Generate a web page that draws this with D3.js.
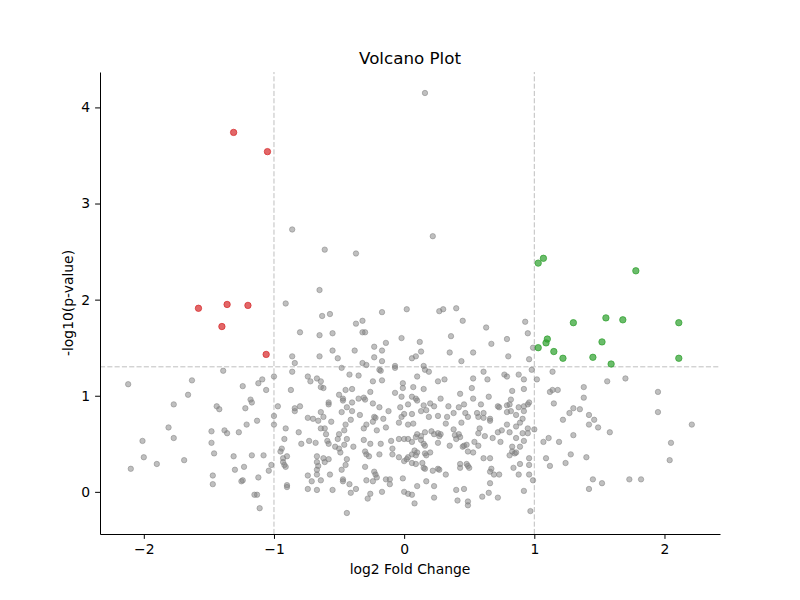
<!DOCTYPE html>
<html>
<head>
<meta charset="utf-8">
<script src="https://cdn.jsdelivr.net/npm/d3@7"></script>
<style>
  body { margin: 0; background: #fff; }
  svg text { font-family: "DejaVu Sans", sans-serif; fill: #000; }
</style>
</head>
<body>
<svg id="chart" width="800" height="600"></svg>
<script>
// [log2 fold change, -log10(p)]
const downGenes = [
  [-1.31, 3.74], [-1.05, 3.54], [-1.58, 1.91], [-1.36, 1.95], [-1.20, 1.94], [-1.40, 1.72], [-1.06, 1.43]
]

const upGenes = [
  [1.07, 2.43], [1.03, 2.38], [1.78, 2.30], [1.10, 1.59], [1.09, 1.55], [1.03, 1.50], [1.15, 1.46],
  [1.22, 1.39], [1.30, 1.76], [1.55, 1.81], [1.68, 1.79], [2.11, 1.76], [1.52, 1.56], [1.45, 1.40],
  [1.59, 1.33], [2.11, 1.39]
]

const otherGenes = [
  [-0.86, 2.73], [-0.61, 2.52], [-0.37, 2.48], [-0.65, 2.10], [0.16, 4.15], [0.22, 2.66],
  [-2.12, 1.12], [-1.63, 1.16], [-1.39, 1.26], [-1.24, 1.10], [-1.66, 1.01], [-1.77, 0.91], [-1.44, 0.89],
  [-1.18, 0.96], [-1.17, 0.93], [-1.22, 0.87], [-1.42, 0.86],
  [-1.81, 0.67], [-2.01, 0.53], [-1.77, 0.56], [-2.00, 0.36], [-1.90, 0.29], [-2.10, 0.24], [-1.69, 0.33],
  [-1.48, 0.63], [-1.38, 0.64], [-1.36, 0.61], [-1.27, 0.62], [-1.21, 0.70], [-1.48, 0.51], [-1.46, 0.40],
  [-1.31, 0.37], [-1.17, 0.38], [-1.23, 0.26], [-1.30, 0.23], [-1.47, 0.17], [-1.47, 0.08], [-1.25, 0.11],
  [-1.24, 0.12], [-1.15, -0.03],
  [-0.91, 1.96], [-0.63, 1.83], [-0.57, 1.85], [-0.17, 1.87], [0.02, 1.90], [-0.37, 1.75], [-0.32, 1.78],
  [-0.80, 1.66], [-0.65, 1.63], [-0.55, 1.65], [-0.32, 1.66], [-0.30, 1.66], [-0.02, 1.60], [-0.14, 1.55],
  [-0.23, 1.51], [-0.17, 1.47], [-0.38, 1.47], [-0.55, 1.47], [-0.86, 1.41], [-0.65, 1.41], [-0.51, 1.39],
  [-0.23, 1.40], [-0.84, 1.34], [-0.17, 1.36], [-0.32, 1.34], [-0.29, 1.32], [-0.48, 1.29], [-0.07, 1.31],
  [-0.07, 1.29], [-0.19, 1.27], [-0.18, 1.26], [-0.86, 1.25], [-1.00, 1.20], [-1.09, 1.17], [-1.12, 1.13],
  [-0.74, 1.20], [-0.72, 1.15], [-0.67, 1.18], [-0.64, 1.15], [-0.42, 1.22], [-0.35, 1.21], [-0.24, 1.15],
  [-0.17, 1.16], [-0.01, 1.13], [-1.06, 1.06], [-0.87, 1.06], [-0.64, 1.09], [-0.62, 1.08], [-0.45, 1.06],
  [-0.40, 1.07], [-0.26, 1.04], [-0.07, 1.03], [-0.01, 1.08], [-0.50, 1.01], [-0.47, 0.97], [-0.47, 0.95],
  [-0.40, 0.93], [-0.35, 0.97], [-0.31, 0.98], [-0.30, 0.96], [-0.24, 0.92], [-0.02, 0.99], [-0.03, 0.88],
  [0.03, 0.91], [-0.19, 0.88], [-0.58, 0.93], [-0.58, 0.91], [-0.97, 0.89], [-0.80, 0.89], [-0.44, 0.88],
  [-0.84, 0.87],
  [-1.00, 0.79], [-1.00, 0.70], [-1.13, 0.74], [-0.84, 0.84], [-0.74, 0.77], [-0.70, 0.76], [-0.66, 0.74],
  [-0.64, 0.83], [-0.62, 0.78], [-0.56, 0.73], [-0.48, 0.83], [-0.40, 0.84], [-0.34, 0.80], [-0.23, 0.78],
  [-0.22, 0.77], [-0.12, 0.84], [-0.16, 0.76], [-0.02, 0.78], [0.00, 0.81], [-0.04, 0.72], [0.03, 0.70],
  [-0.91, 0.66], [-0.64, 0.66], [-0.61, 0.66], [-0.81, 0.62], [-0.60, 0.60], [-0.50, 0.60], [-0.46, 0.64],
  [-0.41, 0.75], [-0.31, 0.66], [-0.29, 0.70], [-0.24, 0.73], [-0.21, 0.64], [-0.14, 0.67], [-0.45, 0.70],
  [-0.92, 0.55], [-0.79, 0.50], [-0.73, 0.53], [-0.68, 0.51], [-0.59, 0.53], [-0.58, 0.50], [-0.51, 0.55],
  [-0.44, 0.55], [-0.46, 0.49], [-0.53, 0.47], [-0.50, 0.45], [-0.49, 0.41], [-0.39, 0.47], [-0.31, 0.54],
  [-0.26, 0.50], [-0.18, 0.50], [-0.10, 0.53], [-0.04, 0.55], [0.00, 0.55], [0.03, 0.55], [-0.94, 0.45],
  [-0.95, 0.42], [-0.90, 0.37], [-1.08, 0.38], [-0.93, 0.35], [-0.93, 0.31], [-0.92, 0.28], [-0.91, 0.26],
  [-1.02, 0.28], [-1.04, 0.22], [-1.12, 0.15], [-0.67, 0.37], [-0.62, 0.35], [-0.58, 0.34], [-0.67, 0.31],
  [-0.66, 0.27], [-0.67, 0.23], [-0.67, 0.18], [-0.61, 0.31], [-0.74, 0.17], [-0.71, 0.11], [-0.64, 0.12],
  [-0.57, 0.18], [-0.74, 0.03], [-0.67, 0.02], [-0.55, 0.02], [-0.90, 0.07], [-0.90, 0.05], [-0.48, 0.23],
  [-0.45, 0.28], [-0.44, 0.34], [-0.47, 0.13], [-0.47, 0.11], [-0.42, 0.08], [-0.37, 0.03], [-0.41, -0.01],
  [-0.44, -0.22], [-0.30, 0.42], [-0.29, 0.39], [-0.27, 0.37], [-0.19, 0.39], [-0.09, 0.45], [-0.09, 0.39],
  [-0.04, 0.36], [0.00, 0.32], [0.02, 0.34], [0.03, 0.36], [-0.30, 0.26], [-0.23, 0.21], [-0.22, 0.18],
  [-0.21, 0.15], [-0.29, 0.12], [-0.24, 0.11], [-0.14, 0.13], [-0.11, 0.13], [-0.11, 0.08], [-0.26, -0.02],
  [-0.28, -0.07], [-0.17, 0.00], [-0.01, 0.14], [0.00, 0.00], [0.03, -0.02], [-1.11, -0.17], [-1.13, -0.03],
  [0.06, 0.81], [0.13, 0.84], [0.17, 0.85], [0.19, 0.78], [0.26, 0.79], [0.33, 0.78], [0.38, 0.82],
  [0.47, 0.82], [0.49, 0.78], [0.56, 0.82], [0.61, 0.82], [0.57, 0.78], [0.61, 0.77], [0.66, 0.76],
  [0.66, 0.74], [0.79, 0.83], [0.82, 0.84], [0.86, 0.80], [0.92, 0.84], [0.91, 0.76], [0.07, 0.71],
  [0.32, 0.71], [0.44, 0.72], [0.10, 0.60], [0.13, 0.58], [0.09, 0.57], [0.21, 0.63], [0.23, 0.60],
  [0.26, 0.61], [0.27, 0.58], [0.28, 0.60], [0.16, 0.62], [0.38, 0.65], [0.39, 0.59], [0.42, 0.60],
  [0.40, 0.55], [0.43, 0.57], [0.58, 0.66], [0.57, 0.61], [0.62, 0.58], [0.68, 0.56], [0.72, 0.62],
  [0.75, 0.64], [0.79, 0.70], [0.81, 0.62], [0.86, 0.68], [0.89, 0.72], [0.91, 0.61], [0.95, 0.61],
  [0.95, 0.66], [1.00, 0.65], [0.86, 0.56], [0.92, 0.53], [0.06, 0.52], [0.13, 0.54], [0.15, 0.50],
  [0.16, 0.48], [0.26, 0.51], [0.35, 0.48], [0.45, 0.47], [0.46, 0.48], [0.48, 0.49], [0.54, 0.52],
  [0.57, 0.48], [0.74, 0.52], [0.08, 0.43], [0.10, 0.41], [0.06, 0.39], [0.09, 0.38], [0.16, 0.40],
  [0.17, 0.38], [0.20, 0.41], [0.49, 0.42], [0.53, 0.41], [0.83, 0.47], [0.83, 0.42], [0.85, 0.40],
  [0.86, 0.41], [0.81, 0.38], [0.89, 0.47], [0.66, 0.35], [0.61, 0.35], [0.96, 0.35], [0.96, 0.28],
  [0.96, 0.18], [0.06, 0.30], [0.09, 0.29], [0.14, 0.30], [0.15, 0.25], [0.16, 0.24], [0.22, 0.22],
  [0.26, 0.24], [0.27, 0.23], [0.32, 0.18], [0.43, 0.29], [0.43, 0.25], [0.48, 0.29], [0.49, 0.27],
  [0.50, 0.25], [0.67, 0.24], [0.66, 0.21], [0.69, 0.18], [0.73, 0.18], [0.84, 0.25], [0.89, 0.29],
  [0.88, 0.18], [0.99, 0.12], [0.66, 0.09], [0.17, 0.11], [0.10, 0.06], [0.23, 0.06], [0.40, 0.02],
  [0.46, 0.03], [0.92, 0.01], [0.65, -0.01], [0.60, -0.05], [0.72, -0.06], [0.06, -0.03], [0.23, -0.06],
  [0.41, -0.09], [0.49, -0.10], [0.49, -0.14], [0.08, -0.12], [0.97, -0.20], [1.07, 0.52], [1.11, 0.56],
  [1.19, 0.52], [1.09, 0.35], [1.12, 0.27], [1.24, 0.30], [1.22, 0.75],
  [1.27, 0.82], [1.42, 0.80], [1.46, 0.75], [1.42, 0.70], [1.49, 0.67], [1.58, 0.62], [1.30, 0.59],
  [1.95, 0.83], [2.21, 0.70], [2.05, 0.51], [2.04, 0.33], [1.28, 0.39], [1.40, 0.36], [1.45, 0.13],
  [1.52, 0.09], [1.42, 0.03], [1.73, 0.13], [1.82, 0.13],
  [1.56, 1.15], [1.70, 1.18], [1.38, 1.09], [1.38, 0.98], [1.95, 1.04], [1.30, 0.87], [1.35, 0.86],
  [0.27, 1.88], [0.30, 1.90], [0.40, 1.91], [0.45, 1.78], [0.63, 1.71], [0.93, 1.77], [0.95, 1.65],
  [0.36, 1.62], [0.12, 1.56], [0.67, 1.54], [0.79, 1.59], [0.13, 1.46], [0.09, 1.41], [0.06, 1.39],
  [0.35, 1.45], [0.53, 1.45], [0.44, 1.36], [0.80, 1.41], [0.99, 1.50], [0.96, 1.38], [0.15, 1.31],
  [0.16, 1.27], [0.19, 1.25], [0.98, 1.27], [0.61, 1.25], [0.77, 1.22], [0.79, 1.20], [0.88, 1.22],
  [0.10, 1.20], [0.26, 1.15], [0.31, 1.17], [0.53, 1.18], [0.64, 1.17], [0.92, 1.17], [1.02, 1.17],
  [1.14, 1.25], [0.07, 1.09], [0.15, 1.07], [0.52, 1.08], [0.83, 1.05], [0.92, 1.07], [1.12, 1.04],
  [1.14, 1.06], [1.18, 1.06], [0.43, 1.02], [0.28, 0.97], [0.53, 0.97], [0.65, 0.99], [0.82, 0.96],
  [0.96, 0.93], [0.95, 0.91], [1.15, 0.92], [0.06, 0.99], [0.09, 0.97], [0.10, 0.95], [0.15, 0.90],
  [0.20, 0.92], [0.23, 0.89], [0.34, 0.89], [0.42, 0.88], [0.46, 0.91], [0.59, 0.91], [0.72, 0.89],
  [0.73, 0.88], [0.79, 0.90], [0.81, 0.91], [0.88, 0.88], [0.92, 0.89]
]

const xTicks = [-2, -1, 0, 1, 2]
const yTicks = [0, 1, 2, 3, 4]
const fcCut = 1
const pCut = -Math.log10(0.05)

const margin = { top: 72, right: 80, bottom: 66, left: 100 },
    width = 800, height = 600

const svg = d3.select('#chart')

const all = otherGenes.concat(downGenes, upGenes)

// matplotlib-style 5% padding around the data
function padded(ext) {
    const p = (ext[1] - ext[0]) * 0.05
    return [ext[0] - p, ext[1] + p]
}

const x = d3.scaleLinear()
    .domain(padded(d3.extent(all, d => d[0])))
    .range([margin.left, width - margin.right])

const y = d3.scaleLinear()
    .domain(padded(d3.extent(all, d => d[1])))
    .range([height - margin.bottom, margin.top])

const x0 = margin.left, x1 = width - margin.right
const y0 = height - margin.bottom, y1 = margin.top

// threshold lines
const guides = svg.append('g')
    .attr('stroke', '#bfbfbf')
    .attr('stroke-width', 1)
    .attr('stroke-dasharray', '5.1,2.2')

guides.selectAll('line.v')
    .data([-fcCut, fcCut])
    .join('line')
    .attr('class', 'v')
    .attr('x1', d => x(d)).attr('x2', d => x(d))
    .attr('y1', y0).attr('y2', y1)

guides.append('line')
    .attr('x1', x0).attr('x2', x1)
    .attr('y1', y(pCut)).attr('y2', y(pCut))

function drawPoints(data, color, r, op) {
    svg.append('g')
        .selectAll('circle')
        .data(data)
        .join('circle')
        .attr('cx', d => x(d[0]))
        .attr('cy', d => y(d[1]))
        .attr('r', r)
        .attr('fill', color)
        .attr('fill-opacity', op)
        .attr('stroke', color)
        .attr('stroke-opacity', op)
        .attr('stroke-width', 1)
}

drawPoints(otherGenes, '#808080', 2.7, 0.5)
drawPoints(downGenes, '#d62728', 3.2, 0.7)
drawPoints(upGenes, '#2ca02c', 3.2, 0.7)

// axes
const xAxis = svg.append('g')
    .attr('transform', `translate(0,${y0})`)
    .call(d3.axisBottom(x).tickValues(xTicks).tickFormat(d3.format('d')).tickSize(4.9).tickPadding(4.9).tickSizeOuter(0))

const yAxis = svg.append('g')
    .attr('transform', `translate(${x0},0)`)
    .call(d3.axisLeft(y).tickValues(yTicks).tickFormat(d3.format('d')).tickSize(4.9).tickPadding(4.9).tickSizeOuter(0))

svg.selectAll('.domain').attr('stroke', '#000').attr('stroke-width', 1)
svg.selectAll('.tick line').attr('stroke', '#000').attr('stroke-width', 1)
svg.selectAll('.tick text')
    .attr('font-family', '"DejaVu Sans", sans-serif')
    .attr('font-size', 13.9)
    .attr('fill', '#000')

// matplotlib uses a real minus sign
xAxis.selectAll('.tick text').text(d => d < 0 ? '\u2212' + Math.abs(d) : d)

svg.append('text')
    .attr('x', (x0 + x1) / 2)
    .attr('y', 64)
    .attr('text-anchor', 'middle')
    .attr('font-size', 16.7)
    .text('Volcano Plot')

svg.append('text')
    .attr('x', (x0 + x1) / 2)
    .attr('y', 574)
    .attr('text-anchor', 'middle')
    .attr('font-size', 13.9)
    .text('log2 Fold Change')

svg.append('text')
    .attr('transform', `translate(73,${(y0 + y1) / 2}) rotate(-90)`)
    .attr('text-anchor', 'middle')
    .attr('font-size', 13.9)
    .text('-log10(p-value)')
</script>
</body>
</html>
